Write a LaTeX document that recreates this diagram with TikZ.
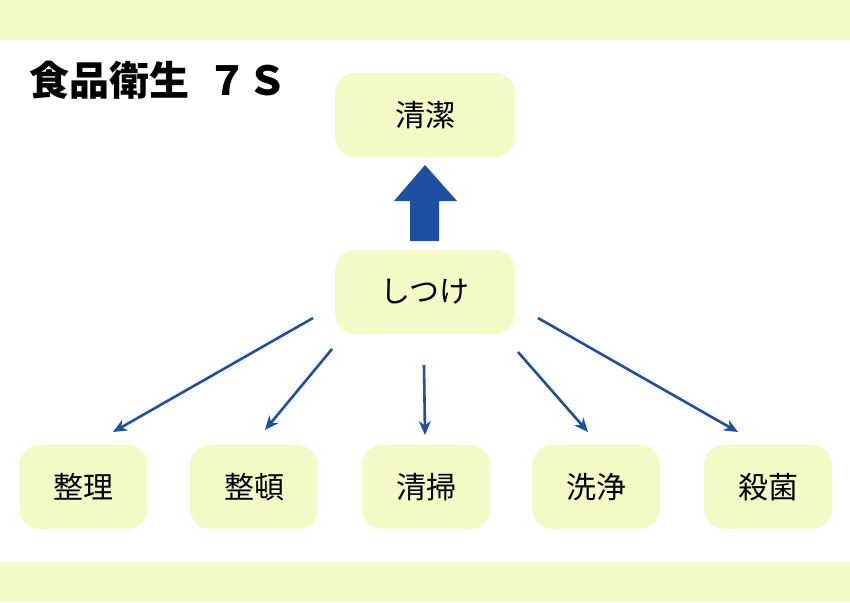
\documentclass[tikz,border=0pt]{standalone}
\usepackage{fontspec}
\setmainfont{Noto Sans CJK JP}
\usetikzlibrary{arrows.meta}
\definecolor{paleyellow}{HTML}{F4FAC6}
\definecolor{arrowblue}{HTML}{1D4FA3}
\begin{document}
\begin{tikzpicture}[x=0.5pt,y=-0.5pt]
\tikzset{font=\fontsize{15pt}{18pt}\selectfont}
\tikzset{sbox/.style={fill=paleyellow, rounded corners=10pt, inner sep=0pt}}
\tikzset{thin arrow/.style={draw=arrowblue, line width=1.3pt, -{Stealth[length=7pt,width=6pt]}}}
\useasboundingbox (0,0) rectangle (850,602);
\fill[paleyellow] (0,0) rectangle (850,40);
\fill[paleyellow] (0,562) rectangle (850,602);
\node[anchor=west, font=\fontsize{20pt}{24pt}\selectfont\bfseries] (title) at (22,80) {食品衛生\ \ ７Ｓ};
% upper boxes
\node[sbox, minimum width=90pt, minimum height=42pt] (seiketsu) at (425,115) {清潔};
\node[sbox, minimum width=90pt, minimum height=42pt] (shitsuke) at (425,292) {しつけ};
% lower boxes
\foreach \name/\x/\lab in {seiri/83.5/整理, seiton/254/整頓, seisou/426/清掃, senjou/596/洗浄, sakkin/768/殺菌}
  \node[sbox, minimum width=64pt, minimum height=42pt] (\name) at (\x,487) {\lab};
% big arrow
\fill[arrowblue] (410,241) -- (410,201) -- (394,201) -- (425,165) -- (457,201) -- (439,201) -- (439,241) -- cycle;
% thin arrows
\coordinate (s1) at (313,318);
\coordinate (s2) at (332,349);
\coordinate (s3) at (424,365);
\coordinate (s4) at (518,352);
\coordinate (s5) at (538,318);
\draw[thin arrow] (s1) -- (113,432);
\draw[thin arrow] (s2) -- (265,430);
\draw[thin arrow] (s3) -- (425,435);
\draw[thin arrow] (s4) -- (588,432);
\draw[thin arrow] (s5) -- (738,432);
\end{tikzpicture}
\end{document}
